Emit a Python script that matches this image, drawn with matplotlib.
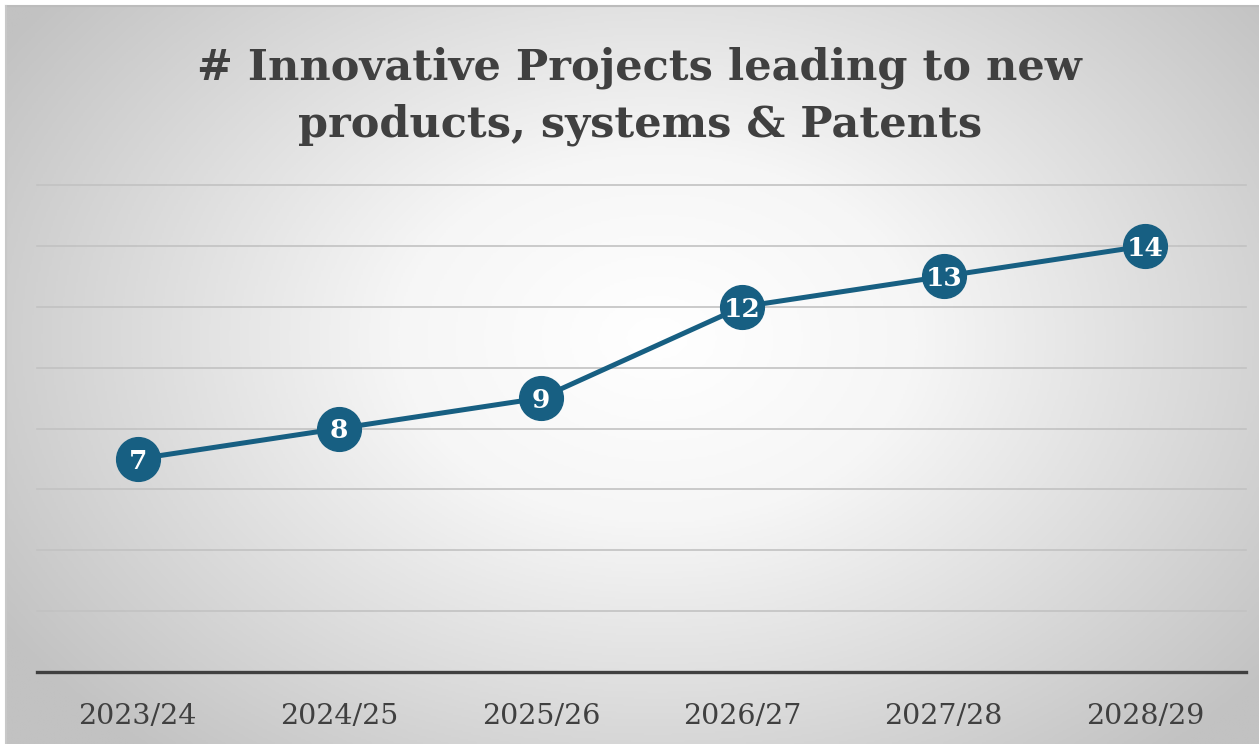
import numpy as np
import matplotlib
matplotlib.use("Agg")
import matplotlib.pyplot as plt
from matplotlib.colors import LinearSegmentedColormap

categories = ["2023/24", "2024/25", "2025/26", "2026/27", "2027/28", "2028/29"]
values = [7, 8, 9, 12, 13, 14]
title = "# Innovative Projects leading to new\nproducts, systems & Patents"

W, H, DPI = 1259, 744, 100
fig = plt.figure(figsize=(W / DPI, H / DPI), dpi=DPI)
fig.patch.set_facecolor("white")

# background panel with radial gradient
x0, y0 = 6 / W, 0.0
bg = fig.add_axes([x0, y0, 1 - x0, 1 - 6 / H])
bg.set_axis_off()
nx, ny = 600, 360
xx, yy = np.meshgrid(np.linspace(0, 1, nx), np.linspace(0, 1, ny))
cx, cy = 0.52, 0.45
r = np.sqrt(((xx - cx) / 0.62) ** 2 + ((yy - cy) / 0.75) ** 2)
r = np.clip(r, 0, 1)
cmap = LinearSegmentedColormap.from_list("g", ["#ffffff", "#f6f6f6", "#dcdcdc", "#c2c2c2"], N=256)
bg.imshow(r, cmap=cmap, vmin=0, vmax=1, extent=[0, 1, 0, 1], aspect="auto", interpolation="bilinear", origin="upper")
bg.set_xlim(0, 1)
bg.set_ylim(0, 1)
bg.plot([0, 1], [1, 1], color="#bcbcbc", lw=1.5, transform=bg.transAxes, clip_on=False)
bg.plot([0, 0], [0, 1], color="#c8c8c8", lw=1.5, transform=bg.transAxes, clip_on=False)

# main axes
left, right = 37, 1246
top, bottom = 185, 672
ax = fig.add_axes([left / W, 1 - bottom / H, (right - left) / W, (bottom - top) / H])
ax.set_facecolor("none")
x = np.arange(len(categories))
ax.set_xlim(-0.5, len(categories) - 0.5)
ax.set_ylim(0, 16)
for g in range(2, 17, 2):
    ax.axhline(g, color="#c2c2c2", lw=1.2, zorder=1, clip_on=False)
ax.axhline(0, color="#404040", lw=2.4, zorder=2, clip_on=False)
for s in ax.spines.values():
    s.set_visible(False)
ax.set_yticks([])
ax.set_xticks(x)
ax.set_xticklabels(categories, fontfamily="DejaVu Serif", fontsize=20.5, color="#404040")
ax.tick_params(axis="x", length=0, pad=22)

color = "#175F82"
ax.plot(x, values, color=color, lw=3.6, zorder=3, solid_capstyle="round")
ax.plot(x, values, "o", ms=31.5, color=color, zorder=4)
for xi, v in zip(x, values):
    ax.text(xi, v, str(v), ha="center", va="center_baseline", color="white",
            fontfamily="DejaVu Serif", fontweight="bold", fontsize=19, zorder=5)

fig.text(0.508, 1 - 96 / H, title, ha="center", va="center", fontfamily="DejaVu Serif",
         fontweight="bold", fontsize=31, color="#404040", linespacing=1.45)

fig.savefig("out.png", dpi=DPI)
